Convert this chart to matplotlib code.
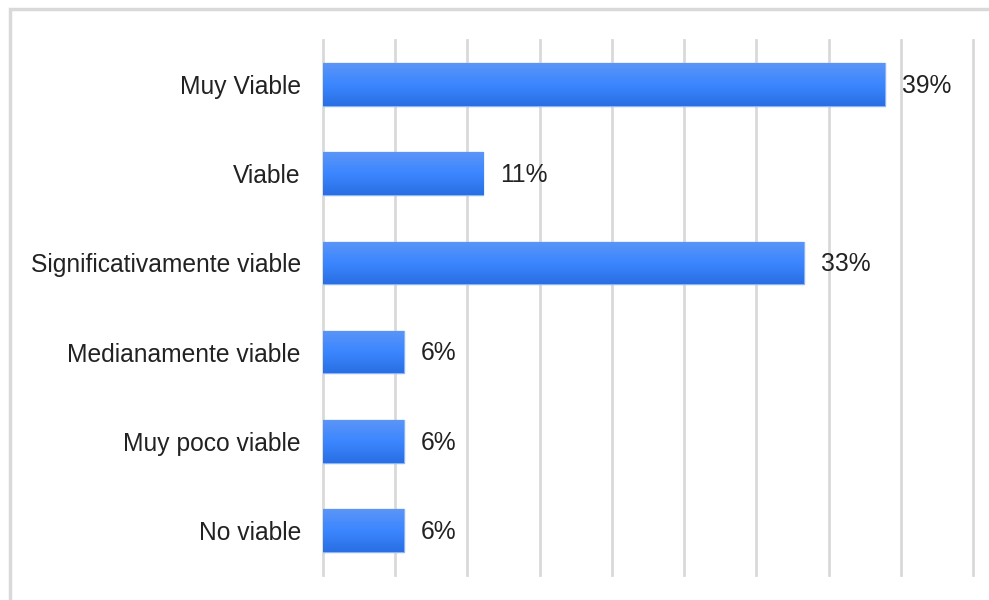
import numpy as np
import matplotlib
matplotlib.use("Agg")
import matplotlib.pyplot as plt
from matplotlib.colors import LinearSegmentedColormap
from matplotlib.patches import Rectangle

plt.rcParams['font.family'] = ['Liberation Sans', 'DejaVu Sans']

# respuestas sobre 18 encuestados
categorias = ["Muy Viable", "Viable", "Significativamente viable",
              "Medianamente viable", "Muy poco viable", "No viable"]
porcentajes = [38.9, 11.1, 33.3, 5.6, 5.6, 5.6]
etiquetas = ["39%", "11%", "33%", "6%", "6%", "6%"]
marcas_x = [0, 5, 10, 15, 20, 25, 30, 35, 40, 45]

fig = plt.figure(figsize=(9.89, 6), dpi=100)
ax = fig.add_axes([0.3266, 0.0417, 0.6572, 0.8916])

# borde gris de la figura
fig.add_artist(Rectangle((10 / 989, -0.01), 1.1, 1 - 9 / 600 + 0.01,
                         transform=fig.transFigure, fill=False,
                         edgecolor="#d9d9d9", linewidth=2.5))

y = np.arange(len(categorias))
barras = ax.barh(y, porcentajes, height=0.48, color="#3b86ff",
                 edgecolor="#8ab4f8", linewidth=1, zorder=3)

# degradado vertical en cada barra
degradado = LinearSegmentedColormap.from_list(
    "azul", ["#5b95f7", "#3b86ff", "#2a6fe3"])
grad = np.linspace(0, 1, 100).reshape(-1, 1)
for b in barras:
    x0, y0 = b.get_x(), b.get_y()
    im = ax.imshow(grad, cmap=degradado, aspect="auto", zorder=3.5,
                   extent=[x0, x0 + b.get_width(), y0 + b.get_height(), y0],
                   origin="upper")
    im.set_clip_path(b)

for b, txt in zip(barras, etiquetas):
    ax.annotate(txt, (b.get_width(), b.get_y() + b.get_height() / 2),
                xytext=(12, -1), textcoords="offset points",
                va="center", ha="left", fontsize=17.7, color="#222222")

ax.set_xlim(0, 45)
ax.set_ylim(len(categorias) - 0.5, -0.5)
ax.set_xticks(marcas_x)
ax.set_xticklabels([])
ax.set_yticks(y)
ax.set_yticklabels(categorias, fontsize=17.7, color="#222222")
ax.tick_params(axis="y", length=0, pad=16)
ax.tick_params(axis="x", length=0)
ax.grid(axis="x", color="#d9d9d9", linewidth=2, zorder=0)
for linea in ax.get_xgridlines():
    linea.set_clip_on(False)
for s in ax.spines.values():
    s.set_visible(False)

fig.savefig("out.png", dpi=100)
